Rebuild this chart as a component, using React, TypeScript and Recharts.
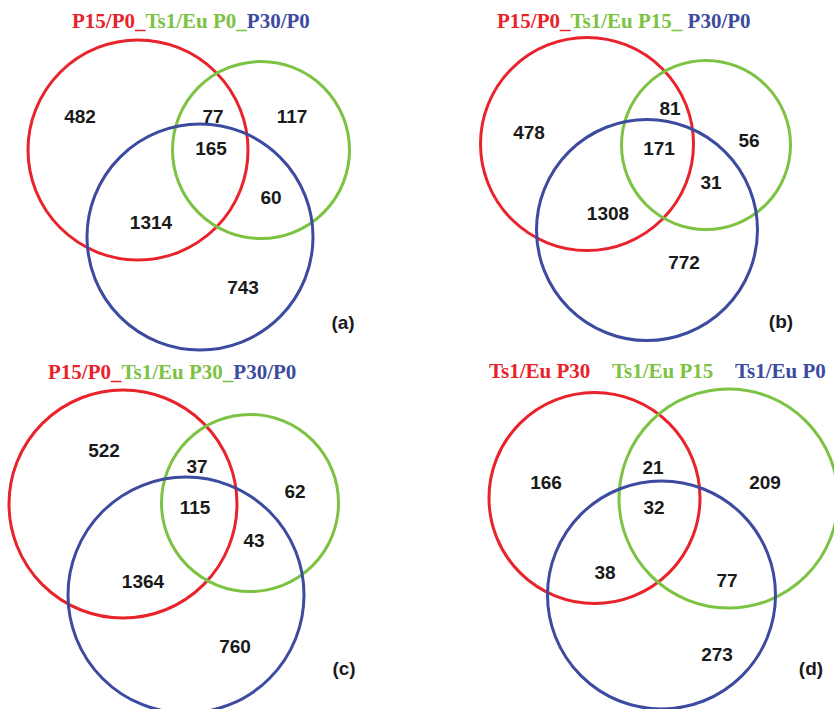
import { ScatterChart, Scatter, XAxis, YAxis } from 'recharts'

const RED = '#e8232b'
const GREEN = '#7cc243'
const BLUE = '#3c4ba0'

// region counts, in order: red only, red+green, green only, all three, red+blue, green+blue, blue only
const COUNTS_A = [482, 77, 117, 165, 1314, 60, 743]
const COUNTS_B = [478, 81, 56, 171, 1308, 31, 772]
const COUNTS_C = [522, 37, 62, 115, 1364, 43, 760]
const COUNTS_D = [166, 21, 209, 32, 38, 77, 273]

const PANEL_TAGS = ['(a)', '(b)', '(c)', '(d)']

const TITLE_A = ['P15/P0_', 'Ts1/Eu P0_', 'P30/P0']
const TITLE_B = ['P15/P0_', 'Ts1/Eu P15_ ', 'P30/P0']
const TITLE_C = ['P15/P0_', 'Ts1/Eu P30_', 'P30/P0']
const TITLE_D = ['Ts1/Eu P30', 'Ts1/Eu P15', 'Ts1/Eu P0']

// layout (page pixels): circles [x, y, r] red, green, blue
const CIRCLES = [
  [[138, 150, 110], [261, 150, 88.5], [200, 237, 113]],
  [[587, 144, 106.5], [706, 145, 84.5], [647, 230, 110.5]],
  [[123, 504, 114], [250, 503, 88.5], [186, 595, 118]],
  [[594.5, 498, 105.5], [728.5, 498.5, 109.5], [661.5, 595, 114]],
]

const LABEL_POS = [
  [[80, 116], [213, 116], [292, 116], [211, 148], [151, 222], [271, 197], [243, 287]],
  [[529, 132], [670, 108], [749, 140], [659, 148], [608, 213], [711, 182], [684, 262]],
  [[104, 450], [197, 466], [295, 491], [195, 507], [143, 581], [254, 540], [235, 646]],
  [[546, 482], [653, 467], [765, 482], [654, 507], [605, 572], [727, 580], [717, 654]],
]

const TAG_POS = [[343, 322], [781, 321], [344, 668], [811, 668]]
const TITLE_POS = [[72, 28], [497, 28], [48, 379]]
const TITLE_D_X = [489, 612, 735]
const TITLE_D_Y = 378

const COLORS = [RED, GREEN, BLUE]
const COUNTS = [COUNTS_A, COUNTS_B, COUNTS_C, COUNTS_D]

const circleData = CIRCLES.flatMap((panel) =>
  panel.map(([x, y, r], i) => ({ x, y, r, color: COLORS[i] }))
)

const labelData = COUNTS.flatMap((counts, p) =>
  counts.map((value, i) => ({ x: LABEL_POS[p][i][0], y: LABEL_POS[p][i][1], text: String(value) }))
).concat(PANEL_TAGS.map((tag, p) => ({ x: TAG_POS[p][0], y: TAG_POS[p][1], text: tag })))

const titleData = [TITLE_A, TITLE_B, TITLE_C]
  .map((parts, p) => ({ x: TITLE_POS[p][0], y: TITLE_POS[p][1], parts }))
  .concat(TITLE_D.map((t, i) => ({ x: TITLE_D_X[i], y: TITLE_D_Y, parts: [t], color: COLORS[i] } as any)))

const W = 834
const H = 709

export default function App() {
  return (
    <div style={{ position: 'absolute', left: 0, top: 0, background: '#fff' }}>
      <ScatterChart width={W} height={H} margin={{ top: 0, right: 0, bottom: 0, left: 0 }}>
        <XAxis type="number" dataKey="x" domain={[0, W]} allowDataOverflow hide />
        <YAxis type="number" dataKey="y" domain={[0, H]} allowDataOverflow reversed hide />
        <Scatter
          data={circleData}
          isAnimationActive={false}
          shape={(props: any) => (
            <circle
              cx={props.cx}
              cy={props.cy}
              r={props.payload.r}
              fill="none"
              stroke={props.payload.color}
              strokeWidth={3}
            />
          )}
        />
        <Scatter
          data={labelData}
          isAnimationActive={false}
          shape={(props: any) => (
            <text
              x={props.cx}
              y={props.cy}
              textAnchor="middle"
              dominantBaseline="central"
              fontFamily="'Liberation Sans', Arial, sans-serif"
              fontWeight="bold"
              fontSize={19}
              fill="#1a1a1a"
            >
              {props.payload.text}
            </text>
          )}
        />
        <Scatter
          data={titleData}
          isAnimationActive={false}
          shape={(props: any) => (
            <text
              x={props.cx}
              y={props.cy}
              textAnchor="start"
              fontFamily="'Liberation Serif', 'Times New Roman', serif"
              fontWeight="bold"
              fontSize={21}
              style={{ whiteSpace: 'pre' }}
            >
              {props.payload.parts.map((t: string, i: number) => (
                <tspan key={i} fill={props.payload.color ?? COLORS[i]}>
                  {t}
                </tspan>
              ))}
            </text>
          )}
        />
      </ScatterChart>
    </div>
  )
}
